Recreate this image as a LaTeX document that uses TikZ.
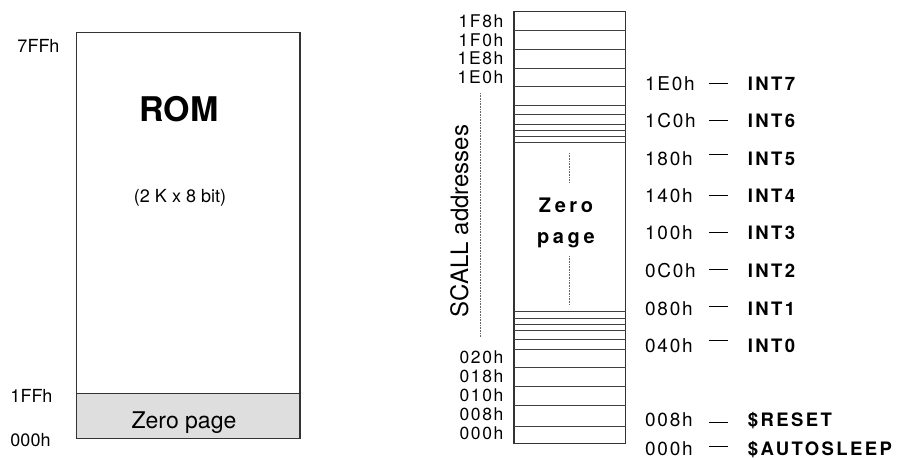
\documentclass[tikz,border=0pt]{standalone}
\usepackage{fontspec}
\setmainfont{TeX Gyre Heros}
\newfontfamily\trackfont[LetterSpace=9]{TeX Gyre Heros}
\newfontfamily\tagfont[LetterSpace=13]{TeX Gyre Heros}
\newfontfamily\widefont[LetterSpace=18]{TeX Gyre Heros}
\begin{document}
\begin{tikzpicture}[x=1pt, y=-1pt]
  \tikzset{
    frame/.style={draw=black!80, line width=1.2pt},
    row/.style={draw=black!75, line width=0.9pt},
    dots/.style={draw=black!60, line width=0.8pt, dash pattern=on 0.8pt off 0.8pt},
    memaddr/.style={font=\fontsize{18}{18}\selectfont, inner sep=0pt, anchor=base},
    celladdr/.style={font=\fontsize{17.5}{18}\trackfont, inner sep=0pt, anchor=base east},
    vecaddr/.style={font=\fontsize{19}{19}\trackfont, inner sep=0pt, anchor=west,
      text width=64pt, text height=13.6pt, text depth=0pt},
    vecname/.style={font=\fontsize{18.5}{19}\tagfont\bfseries, inner sep=0pt, anchor=west,
      text height=13.6pt, text depth=0pt},
  }
  \useasboundingbox (0,0) rectangle (911,460);
  % ROM block
  \fill[black!13] (76.7,393.3) rectangle (300,438.7);
  \draw[frame] (76.7,32.7) rectangle (300,438.7);
  \draw[frame] (76.7,393.3) -- (300,393.3);
  \node[font=\fontsize{34}{34}\selectfont\bfseries, inner sep=0pt, anchor=base] (rom) at (179,121.7) {ROM};
  \node[font=\fontsize{18}{18}\selectfont, inner sep=0pt, anchor=base] (romsize) at (180,202.5) {(2 K x 8 bit)};
  \node[font=\fontsize{23}{23}\selectfont, inner sep=0pt, anchor=base] (zp) at (184,428.3) {Zero page};
  \node[memaddr] (top) at (38.5,52.7) {7FFh};
  \node[memaddr] (zptop) at (31.5,402.7) {1FFh};
  \node[memaddr] (zpbot) at (30.5,446.7) {000h};
  % zero page cells
  \draw[frame] (514,11.7) rectangle (625.7,443.3);
  \foreach \y in {30,49.3,68,86.5,105.3,114.3,124.3,130.7,136.7,142.7,
                  311,318.3,324.3,330,339.3,349,367.7,386.7,405.7,426.7}
    \draw[row] (514,\y) -- (625.7,\y);
  \foreach \y/\t [count=\i] in {27.3/1F8h, 46.7/1F0h, 65/1E8h, 83.3/1E0h,
      363.3/020h, 382.7/018h, 401.7/010h, 420.7/008h, 439.3/000h}
    \node[celladdr] (c\i) at (503.5,\y) {\t};
  \draw[dots] (569.3,153) -- (569.3,182);
  \draw[dots] (569.3,256) -- (569.3,305);
  \node[font=\fontsize{20}{20}\widefont\bfseries, inner sep=0pt, anchor=base] (zero) at (566,212) {Zero};
  \node[font=\fontsize{20}{20}\widefont\bfseries, inner sep=0pt, anchor=base] (page) at (566,243) {page};
  % SCALL range
  \draw[dots] (480.7,93) -- (480.7,337);
  \node[font=\fontsize{24}{24}\selectfont, inner sep=0pt, rotate=90] (scall) at (459.4,221) {SCALL addresses};
  % vectors
  \foreach \y/\ad/\nm/\dy [count=\i] in {83.3/1E0h/INT7/0, 120.7/1C0h/INT6/0,
      158.3/180h/INT5/4, 195.3/140h/INT4/0, 232.7/100h/INT3/0, 270.7/0C0h/INT2/1.5,
      308.3/080h/INT1/2, 346/040h/INT0/6, 419.5/008h/\$RESET/-2.5, 448.5/000h/\$AUTOSLEEP/2} {
    \node[vecaddr] (a\i) at (645,\y) {\ad};
    \node[vecname] (n\i) at (747.7,\y) {\nm};
    \draw[line width=0.9pt, shorten >=19.7pt] ([yshift=\dy pt]a\i.east) -- ([yshift=\dy pt]n\i.west);
  }
\end{tikzpicture}
\end{document}
